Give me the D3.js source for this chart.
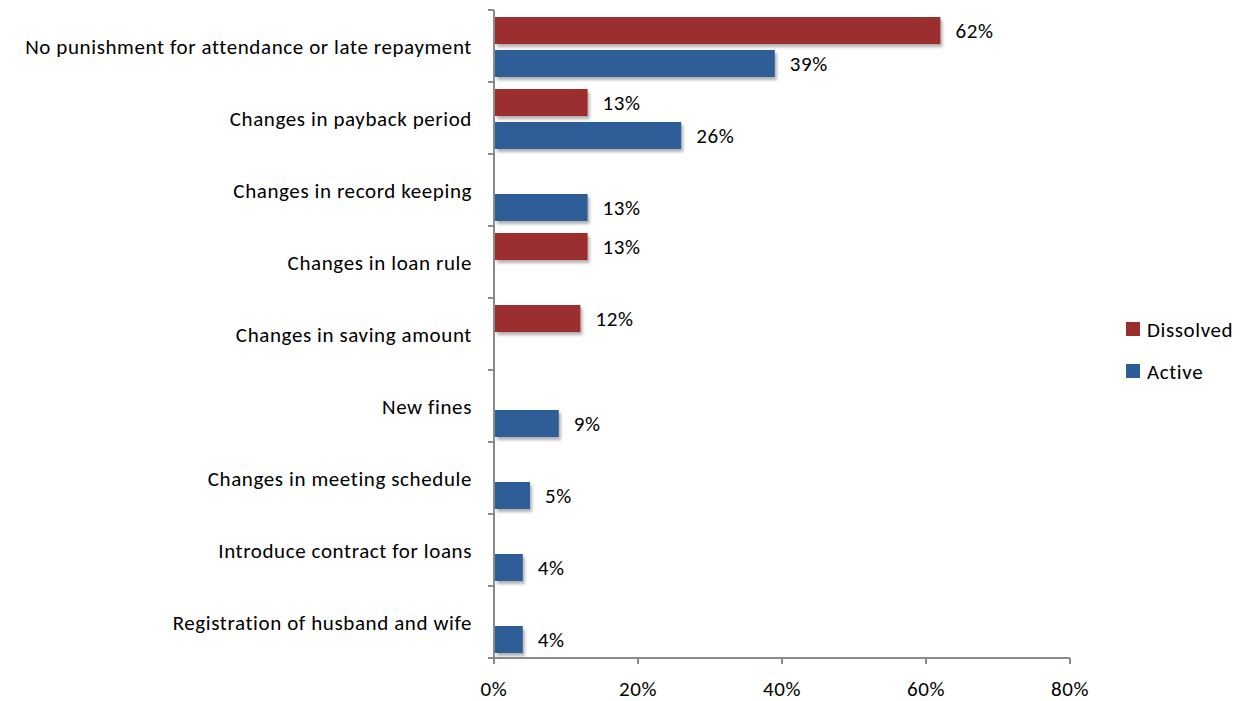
<!DOCTYPE html>
<html>
<head>
<meta charset="utf-8">
<script src="https://cdn.jsdelivr.net/npm/d3@7"></script>
<style>
  html, body { margin: 0; padding: 0; background: #fff; }
  svg { display: block; font-family: Carlito, Lato, "Open Sans", sans-serif; }
  svg text { letter-spacing: 0.6px; }
</style>
</head>
<body>
<svg id="chart" width="1240" height="701"></svg>
<script>
// Reasons for rule changes, share of groups by status
const categories = [
  "No punishment for attendance or late repayment",
  "Changes in payback period",
  "Changes in record keeping",
  "Changes in loan rule",
  "Changes in saving amount",
  "New fines",
  "Changes in meeting schedule",
  "Introduce contract for loans",
  "Registration of husband and wife"
];
const seriesNames = ["Dissolved", "Active"];
const dissolved = [62, 13, null, 13, 12, null, null, null, null];
const active    = [39, 26, 13, null, null, 9, 5, 4, 4];
const xTicks = [0, 20, 40, 60, 80];
const colors = { Dissolved: "#9B2D2D", Active: "#2D5D97" };

const svg = d3.select("#chart");
const plot = { left: 494, right: 1070, top: 10, bottom: 658 };
const fontSize = 21;

const x = d3.scaleLinear().domain([0, 80]).range([plot.left, plot.right]);
const y = d3.scaleBand().domain(categories).range([plot.top, plot.bottom]);
const sub = d3.scaleBand().domain(seriesNames).range([7, 67]).paddingInner(0.18);

// soft drop shadow under bars
const defs = svg.append("defs");
const f = defs.append("filter").attr("id", "shadow")
  .attr("x", "-10%").attr("y", "-20%").attr("width", "130%").attr("height", "160%");
f.append("feDropShadow").attr("dx", 2).attr("dy", 3).attr("stdDeviation", 1.6)
  .attr("flood-color", "#000").attr("flood-opacity", 0.3);

const rows = categories.map((c, i) => ({
  cat: c,
  values: [
    { key: "Dissolved", v: dissolved[i] },
    { key: "Active", v: active[i] }
  ].filter(d => d.v !== null)
}));

const axisColor = "#8a8a8a";

// bars
const g = svg.append("g");
const grp = g.selectAll("g.cat").data(rows).join("g")
  .attr("class", "cat")
  .attr("transform", d => `translate(0,${y(d.cat)})`);

grp.selectAll("rect").data(d => d.values).join("rect")
  .attr("x", x(0) + 1)
  .attr("y", d => sub(d.key))
  .attr("width", d => x(d.v) - x(0) - 1)
  .attr("height", sub.bandwidth())
  .attr("fill", d => colors[d.key])
  .attr("filter", "url(#shadow)");

grp.selectAll("text.val").data(d => d.values).join("text")
  .attr("class", "val")
  .attr("x", d => x(d.v) + 15)
  .attr("y", d => sub(d.key) + sub.bandwidth() / 2)
  .attr("dy", "0.36em")
  .attr("font-size", fontSize)
  .attr("fill", "#000")
  .text(d => d.v + "%");

// category axis
const yAxis = svg.append("g").attr("transform", `translate(${plot.left},0)`);
yAxis.append("line")
  .attr("x1", 0).attr("x2", 0).attr("y1", plot.top).attr("y2", plot.bottom)
  .attr("stroke", axisColor).attr("stroke-width", 2);
const bounds = categories.map(c => y(c)).concat([plot.bottom]);
yAxis.selectAll("line.tick").data(bounds).join("line")
  .attr("class", "tick")
  .attr("x1", -6).attr("x2", 0)
  .attr("y1", d => d).attr("y2", d => d)
  .attr("stroke", axisColor).attr("stroke-width", 2);
yAxis.selectAll("text").data(categories).join("text")
  .attr("x", -22)
  .attr("y", d => y(d) + y.bandwidth() / 2)
  .attr("dy", "0.36em")
  .attr("text-anchor", "end")
  .attr("font-size", fontSize)
  .attr("fill", "#000")
  .text(d => d);

// value axis
const xAxis = svg.append("g").attr("transform", `translate(0,${plot.bottom})`);
xAxis.append("line")
  .attr("x1", plot.left).attr("x2", plot.right)
  .attr("stroke", axisColor).attr("stroke-width", 2);
xAxis.selectAll("line.tick").data(xTicks).join("line")
  .attr("class", "tick")
  .attr("x1", d => x(d)).attr("x2", d => x(d))
  .attr("y1", 0).attr("y2", 6)
  .attr("stroke", axisColor).attr("stroke-width", 2);
xAxis.selectAll("text").data(xTicks).join("text")
  .attr("x", d => x(d))
  .attr("y", 30)
  .attr("dy", "0.36em")
  .attr("text-anchor", "middle")
  .attr("font-size", fontSize)
  .attr("fill", "#000")
  .text(d => d + "%");

// legend
const legend = svg.append("g").attr("transform", "translate(1126,0)");
const legY = { Dissolved: 329, Active: 371 };
seriesNames.forEach(k => {
  legend.append("rect")
    .attr("x", 0).attr("y", legY[k] - 7)
    .attr("width", 14).attr("height", 14)
    .attr("fill", colors[k]);
  legend.append("text")
    .attr("x", 21).attr("y", legY[k])
    .attr("dy", "0.36em")
    .attr("font-size", fontSize)
    .attr("fill", "#000")
    .text(k);
});
</script>
</body>
</html>
